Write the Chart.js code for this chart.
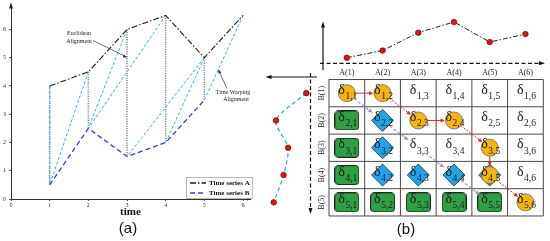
<!DOCTYPE html>
<html><head><meta charset="utf-8">
<script src="https://cdn.jsdelivr.net/npm/chart.js@4/dist/chart.umd.min.js"></script>
<style>
html,body{margin:0;padding:0;background:#fff;width:550px;height:241px;overflow:hidden}
#ca{position:absolute;left:0;top:0}
#cb{position:absolute;left:255px;top:0}
</style></head><body>
<canvas id="ca" width="255" height="241"></canvas>
<canvas id="cb" width="295" height="241"></canvas>
<script>
// ---------- data ----------
const timeTicks = [0, 1, 2, 3, 4, 5, 6];
const valueTicks = [0, 1, 2, 3, 4, 5, 6];
const seriesA = [4, 4.5, 6, 6.5, 5, 6.5];
const seriesB = [0.5, 2.5, 1.5, 2, 3.5];
const pathA = [1, 2, 3, 4, 5, 5, 6];   // warping path: index in A (column)
const pathB = [1, 1, 2, 2, 3, 4, 5];   // warping path: index in B (row)
const sketchA = [4, 4.5, 5.75, 6.5, 5.1, 5.65];  // small curve above the matrix
const sketchB = [0.5, 2.5, 1.7, 2, 2.65];        // small curve left of the matrix
const colLabels = ['A(1)', 'A(2)', 'A(3)', 'A(4)', 'A(5)', 'A(6)'];
const rowLabels = ['B(1)', 'B(2)', 'B(3)', 'B(4)', 'B(5)'];
const greenCells = [[2,1],[3,1],[4,1],[5,1],[5,2],[5,3],[5,4],[5,5]]; // [row, col]
const blueCells = [[2,2],[3,2],[4,2],[4,3],[4,4],[4,5]];
const diagCells = [[1,1],[2,2],[3,3],[4,4],[5,5]];
const legendA = ['Time series A', 'Time series B'];

const SERIF = '"Liberation Serif", "DejaVu Serif", serif';
const SANS = '"Liberation Sans", Arial, sans-serif';

function arrowHead(ctx, x1, y1, x2, y2, len, wid, color) {
  const a = Math.atan2(y2 - y1, x2 - x1);
  ctx.save();
  ctx.fillStyle = color;
  ctx.setLineDash([]);
  ctx.beginPath();
  ctx.moveTo(x2, y2);
  ctx.lineTo(x2 - len * Math.cos(a) + wid * Math.sin(a), y2 - len * Math.sin(a) - wid * Math.cos(a));
  ctx.lineTo(x2 - len * Math.cos(a) - wid * Math.sin(a), y2 - len * Math.sin(a) + wid * Math.cos(a));
  ctx.closePath();
  ctx.fill();
  ctx.restore();
}
function line(ctx, x1, y1, x2, y2, color, w, dash) {
  ctx.save();
  ctx.strokeStyle = color; ctx.lineWidth = w; ctx.setLineDash(dash || []);
  ctx.beginPath(); ctx.moveTo(x1, y1); ctx.lineTo(x2, y2); ctx.stroke();
  ctx.restore();
}

// ---------- panel (a) ----------
const euclid = [];
seriesB.forEach((b, i) => { euclid.push({x: i + 1, y: seriesA[i]}, {x: i + 1, y: b}, {x: i + 1, y: null}); });
const warp = [];
pathA.forEach((a, k) => { const b = pathB[k]; warp.push({x: a, y: seriesA[a - 1]}, {x: b, y: seriesB[b - 1]}, {x: b, y: null}); });

const axisCommon = {
  grid: {display: true, drawOnChartArea: false, drawTicks: true, tickLength: 2, color: '#333', lineWidth: 0.8},
  border: {display: true, color: '#333', width: 1},
};

const panelAPlugin = {
  id: 'panelA',
  afterDraw(chart) {
    const ctx = chart.ctx, ca = chart.chartArea;
    // axis arrowheads
    line(ctx, ca.left, ca.top, ca.left, ca.top - 2, '#333', 1);
    arrowHead(ctx, ca.left, ca.top + 4, ca.left, ca.top - 4, 6, 2, '#222');
    arrowHead(ctx, ca.right - 4, ca.bottom, ca.right + 2, ca.bottom, 5, 1.6, '#222');
    const xs = chart.scales.x, ys = chart.scales.y;
    // annotations
    ctx.save();
    ctx.fillStyle = '#222';
    ctx.font = '6px ' + SERIF;
    ctx.textAlign = 'center'; ctx.textBaseline = 'middle';
    ctx.fillText('Euclidean', 79, 33.5);
    ctx.fillText('Alignment', 79, 41.5);
    ctx.fillText('Time Warping', 233, 92.5);
    ctx.fillText('Alignment', 236, 99.5);
    ctx.restore();
    const e = [xs.getPixelForValue(3), ys.getPixelForValue(5)];
    line(ctx, 93, 40.5, e[0] - 1, e[1] - 1, '#333', 0.7);
    arrowHead(ctx, 93, 40.5, e[0], e[1], 4, 1.5, '#222');
    const t = [xs.getPixelForValue(5.36), ys.getPixelForValue(4.58)];
    line(ctx, 227, 88.5, t[0], t[1], '#333', 0.7);
    arrowHead(ctx, 227, 88.5, t[0], t[1], 4, 1.5, '#222');
    // legend
    ctx.save();
    ctx.fillStyle = '#fff'; ctx.strokeStyle = '#aaa'; ctx.lineWidth = 0.8;
    ctx.fillRect(186.5, 177.5, 66, 21);
    ctx.strokeRect(186.5, 177.5, 66, 21);
    chart.data.datasets.slice(0, 2).forEach((ds, k) => {
      const y = 183 + k * 10;
      line(ctx, 190, y, 206, y, ds.borderColor, 1.4, ds.borderDash);
      ctx.fillStyle = '#111';
      ctx.font = 'bold 7px ' + SERIF;
      ctx.textAlign = 'left'; ctx.textBaseline = 'middle';
      ctx.fillText(ds.label, 209, y + 0.5);
    });
    ctx.restore();
    // (a)
    ctx.save();
    ctx.fillStyle = '#111';
    ctx.font = '15px ' + SANS;
    ctx.textAlign = 'center'; ctx.textBaseline = 'middle';
    ctx.fillText('(a)', 128, 228.5);
    ctx.restore();
  }
};

new Chart(document.getElementById('ca'), {
  type: 'line',
  data: {
    datasets: [
      {label: legendA[0], data: seriesA.map((v, i) => ({x: i + 1, y: v})), borderColor: '#1a1a1a', borderWidth: 1.1, borderDash: [6, 2, 1.5, 2], pointRadius: 0, order: 0},
      {label: legendA[1], data: seriesB.map((v, i) => ({x: i + 1, y: v})), borderColor: '#3d3de0', borderWidth: 1.3, borderDash: [5, 3], pointRadius: 0, order: 1},
      {label: 'warp', data: warp, borderColor: '#2cb2ee', borderWidth: 1, borderDash: [3, 2], pointRadius: 0, order: 2},
      {label: 'euclid', data: euclid, borderColor: '#8c8c8c', borderWidth: 1.6, borderDash: [1.2, 1.2], pointRadius: 0, order: 3}
    ]
  },
  options: {
    responsive: false, animation: false, events: [],
    layout: {padding: {left: 0, top: 6, right: 5, bottom: 0}, autoPadding: false},
    plugins: {legend: {display: false}, tooltip: {enabled: false}},
    scales: {
      x: Object.assign({
        type: 'linear', min: 0, max: 6.18,
        afterBuildTicks: s => { s.ticks = timeTicks.map(v => ({value: v})); },
        afterFit: s => { s.height = 42; },
        ticks: {font: {family: SERIF, size: 6}, color: '#333', padding: 1, maxRotation: 0, autoSkip: false},
        title: {display: true, text: 'time', font: {family: SERIF, size: 11, weight: 'bold'}, color: '#111', padding: {top: 0, bottom: 22}}
      }, axisCommon),
      y: Object.assign({
        type: 'linear', min: 0, max: 6.81,
        afterBuildTicks: s => { s.ticks = valueTicks.map(v => ({value: v})); },
        afterFit: s => { s.width = 11; },
        ticks: {font: {family: SERIF, size: 6}, color: '#333', padding: 3, autoSkip: false}
      }, axisCommon)
    }
  },
  plugins: [panelAPlugin]
});

// ---------- panel (b) ----------
function makeGreen() {
  const c = document.createElement('canvas');
  c.width = 25; c.height = 20;
  const g = c.getContext('2d');
  const x = 0.5, y = 0.5, w = 24, h = 19, r = 3.5;
  g.beginPath();
  g.moveTo(x + r, y);
  g.arcTo(x + w, y, x + w, y + h, r);
  g.arcTo(x + w, y + h, x, y + h, r);
  g.arcTo(x, y + h, x, y, r);
  g.arcTo(x, y, x + w, y, r);
  g.closePath();
  g.fillStyle = '#2f9f44'; g.fill();
  g.strokeStyle = '#1e2a1e'; g.lineWidth = 1; g.stroke();
  return c;
}

const panelBPlugin = {
  id: 'panelB',
  beforeDatasetsDraw(chart) {
    const ctx = chart.ctx, xs = chart.scales.x, ys = chart.scales.y;
    const top = ys.getPixelForValue(0.5), bot = ys.getPixelForValue(rowLabels.length + 0.5);
    const left = xs.getPixelForValue(0.5), right = xs.getPixelForValue(colLabels.length + 0.5);
    for (let c = 0; c <= colLabels.length; c++) {
      const x = xs.getPixelForValue(c + 0.5);
      line(ctx, x, top, x, bot, '#4a4a4a', 1);
    }
    for (let r = 0; r <= rowLabels.length; r++) {
      const y = ys.getPixelForValue(r + 0.5);
      line(ctx, left, y, right, y, '#4a4a4a', 1);
    }
    // mini-chart axes
    line(ctx, 68, 70, 68, 25, '#111', 1.2);
    arrowHead(ctx, 68, 30, 68, 21.5, 6, 2, '#111');
    line(ctx, 65, 63.3, 286, 63.3, '#111', 1.2, [4, 2.5]);
    arrowHead(ctx, 282, 63.3, 290, 63.3, 6, 2, '#111');
    line(ctx, 62, 77, 14, 77, '#111', 1.2);
    arrowHead(ctx, 18, 77, 10.5, 77, 6, 2, '#111');
    line(ctx, 55.5, 73, 55.5, 210, '#111', 1.2, [4, 2.5]);
    arrowHead(ctx, 55.5, 205, 55.5, 214, 6, 2, '#111');
  },
  afterDatasetsDraw(chart) {
    const ctx = chart.ctx, xs = chart.scales.x, ys = chart.scales.y;
    const px = (r, c) => [xs.getPixelForValue(c), ys.getPixelForValue(r)];
    // delta labels
    ctx.save();
    for (let r = 1; r <= rowLabels.length; r++) {
      for (let c = 1; c <= colLabels.length; c++) {
        const [cx, cy] = px(r, c);
        const sub = r + ',' + c;
        ctx.font = '14px ' + SERIF;
        const wd = ctx.measureText('δ').width;
        ctx.font = '9.5px ' + SERIF;
        const ws = ctx.measureText(sub).width;
        const sx = cx - (wd + ws + 0.5) / 2 + 1;
        ctx.fillStyle = '#1a1a1a';
        ctx.textAlign = 'left'; ctx.textBaseline = 'alphabetic';
        ctx.font = '14px ' + SERIF;
        ctx.fillText('δ', sx, cy + 0.5);
        ctx.font = '9.5px ' + SERIF;
        ctx.fillText(sub, sx + wd + 0.5, cy + 5.8);
      }
    }
    ctx.restore();
    // purple diagonal arrows
    for (let k = 0; k < diagCells.length - 1; k++) {
      const p1 = px(diagCells[k][0], diagCells[k][1]);
      const p2 = px(diagCells[k + 1][0], diagCells[k + 1][1]);
      const d = Math.hypot(p2[0] - p1[0], p2[1] - p1[1]);
      const ux = (p2[0] - p1[0]) / d, uy = (p2[1] - p1[1]) / d;
      const s = [p1[0] + ux * 9, p1[1] + uy * 9], e = [p2[0] - ux * 12.5, p2[1] - uy * 12.5];
      line(ctx, s[0], s[1], e[0] - ux * 3, e[1] - uy * 3, '#a496cc', 1.2, [3, 2]);
      arrowHead(ctx, s[0], s[1], e[0], e[1], 4.5, 2, '#9a8cc6');
    }
    // red warping path arrows
    for (let k = 0; k < pathA.length - 1; k++) {
      const p1 = px(pathB[k], pathA[k]);
      const p2 = px(pathB[k + 1], pathA[k + 1]);
      const d = Math.hypot(p2[0] - p1[0], p2[1] - p1[1]);
      const ux = (p2[0] - p1[0]) / d, uy = (p2[1] - p1[1]) / d;
      const s = [p1[0] + ux * 8.5, p1[1] + uy * 8.5], e = [p2[0] - ux * 9, p2[1] - uy * 9];
      const diag = pathA[k + 1] !== pathA[k] && pathB[k + 1] !== pathB[k];
      line(ctx, s[0], s[1], e[0] - ux * 3, e[1] - uy * 3, '#e8261e', 1, diag ? [2, 1.5] : []);
      arrowHead(ctx, s[0], s[1], e[0], e[1], 4.5, 2, '#e8261e');
    }
    // axis labels
    ctx.save();
    ctx.fillStyle = '#222';
    ctx.font = '8px ' + SERIF;
    ctx.textAlign = 'center'; ctx.textBaseline = 'middle';
    colLabels.forEach((t, i) => ctx.fillText(t, xs.getPixelForValue(i + 1), 72.5));
    rowLabels.forEach((t, i) => {
      ctx.save();
      ctx.translate(66.5, ys.getPixelForValue(i + 1));
      ctx.rotate(-Math.PI / 2);
      ctx.fillText(t, 0, 0);
      ctx.restore();
    });
    ctx.fillStyle = '#111';
    ctx.font = '15px ' + SANS;
    ctx.fillText('(b)', 151, 229.5);
    ctx.restore();
  }
};

const toCells = arr => arr.map(([r, c]) => ({x: c, y: r}));
const redPt = {pointRadius: 2.8, pointBackgroundColor: '#e3121b', pointBorderColor: '#5a0000', pointBorderWidth: 0.6, backgroundColor: '#e3121b'};

new Chart(document.getElementById('cb'), {
  type: 'scatter',
  data: {
    datasets: [
      {data: pathA.map((c, k) => ({x: c, y: pathB[k]})), pointStyle: 'circle', pointRadius: 8.5, backgroundColor: '#f6b40c', pointBackgroundColor: '#f6b40c', borderColor: '#6a6a6a', pointBorderColor: '#6a6a6a', pointBorderWidth: 0.8, xAxisID: 'x', yAxisID: 'y', order: 0},
      {data: toCells(blueCells), pointStyle: 'rectRot', pointRadius: 11, backgroundColor: '#1da5e8', pointBackgroundColor: '#1da5e8', pointBorderColor: '#2a2a2a', pointBorderWidth: 0.8, xAxisID: 'x', yAxisID: 'y', order: 1},
      {data: toCells(greenCells), pointStyle: makeGreen(), pointRadius: 10, xAxisID: 'x', yAxisID: 'y', order: 2},
      Object.assign({data: sketchA.map((v, i) => ({x: i + 1, y: v})), showLine: true, borderColor: '#222', borderWidth: 1, borderDash: [5, 2, 1.5, 2], xAxisID: 'x', yAxisID: 'yT', order: 3}, redPt),
      Object.assign({data: sketchB.map((v, i) => ({x: v, y: i + 1})), showLine: true, borderColor: '#2aa6e4', borderWidth: 1.2, borderDash: [4, 3], tension: 0.25, xAxisID: 'xL', yAxisID: 'y', order: 4}, redPt)
    ]
  },
  options: {
    responsive: false, animation: false, events: [],
    layout: {padding: 0, autoPadding: false},
    plugins: {legend: {display: false}, tooltip: {enabled: false}},
    scales: {
      x: {type: 'linear', display: false, min: -1.5717, max: 6.6876},
      y: {type: 'linear', display: false, reverse: true, min: -2.412, max: 6.416},
      yT: {type: 'linear', axis: 'y', position: 'left', display: false, min: -8.818, max: 8.035},
      xL: {type: 'linear', axis: 'x', position: 'bottom', display: false, reverse: true, min: -15.586, max: 3.886}
    }
  },
  plugins: [panelBPlugin]
});
</script>
</body></html>
